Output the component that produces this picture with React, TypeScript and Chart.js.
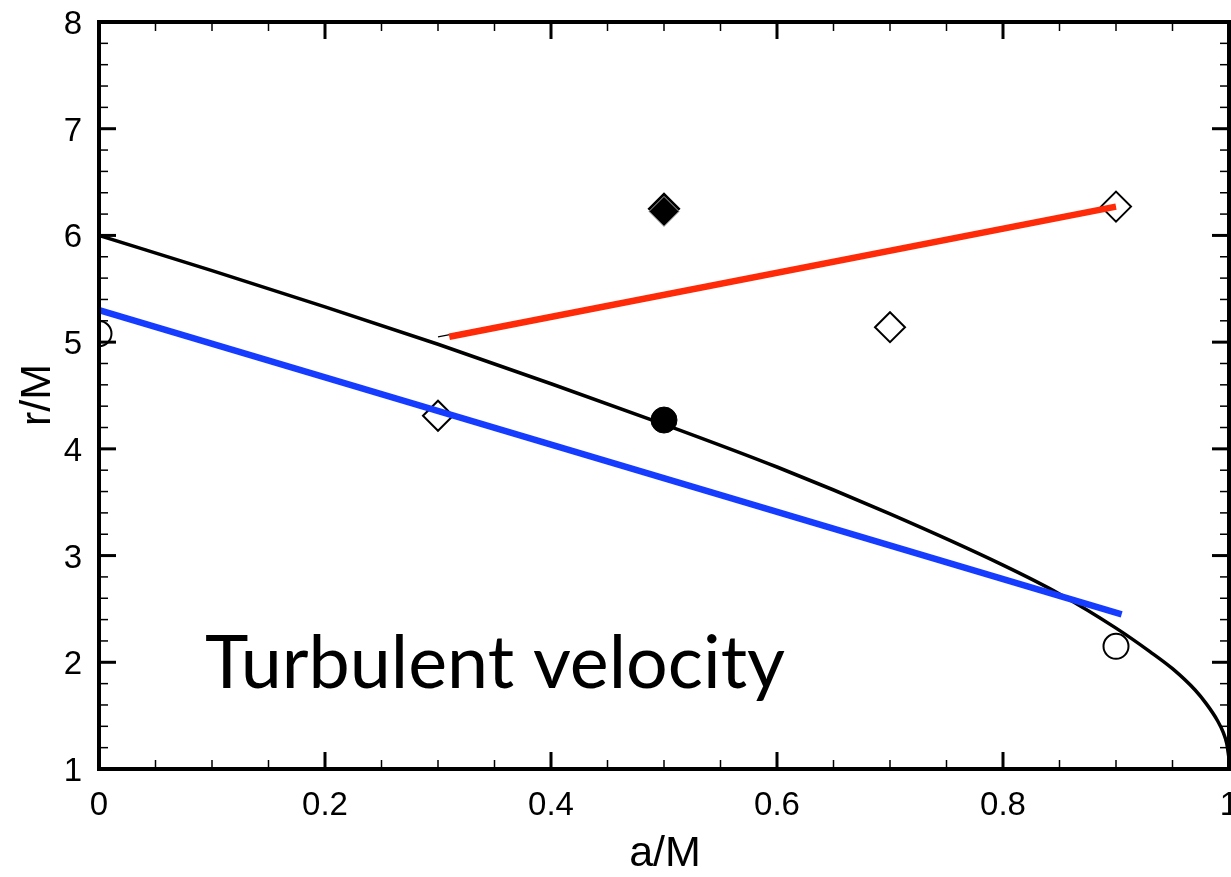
import React, { useEffect, useRef } from "react";
import { Chart, registerables } from "chart.js";

Chart.register(...registerables);

// ---- data ----
const curveA = [0, 0.1, 0.2, 0.3, 0.4, 0.5, 0.6, 0.7, 0.8, 0.85, 0.9, 0.93, 0.95, 0.97, 0.98, 0.99, 0.995, 0.998, 1.0];
const curveR = [6.0, 5.67, 5.33, 4.98, 4.61, 4.23, 3.83, 3.39, 2.91, 2.64, 2.32, 2.1, 1.94, 1.74, 1.61, 1.45, 1.34, 1.24, 1.1];

const redA = [0.31, 0.9];
const redR = [5.05, 6.27];
const thinA = [0.3, 0.9];
const thinR = [5.05, 6.27];
const blueA = [0, 0.905];
const blueR = [5.3, 2.45];

const openCircleA = [0, 0.9];
const openCircleR = [5.08, 2.15];
const filledCircleA = [0.5];
const filledCircleR = [4.27];
const openDiamondA = [0.3, 0.7, 0.9];
const openDiamondR = [4.31, 5.14, 6.27];
const filledDiamondA = [0.5, 0.5];
const filledDiamondR = [6.25, 6.225];

const xTicks = [0, 0.2, 0.4, 0.6, 0.8, 1];
const xTickLabels = ["0", "0.2", "0.4", "0.6", "0.8", "1"];
const yTicks = [1, 2, 3, 4, 5, 6, 7, 8];
const yTickLabels = ["1", "2", "3", "4", "5", "6", "7", "8"];
const xTitle = "a/M";
const yTitle = "r/M";
const annotation = "Turbulent velocity";

const pts = (xs: number[], ys: number[]) => xs.map((x, i) => ({ x, y: ys[i] }));

const LABEL_FONT = "33px 'Liberation Sans', Arial, sans-serif";

const framePlugin = {
  id: "frame",
  afterDraw(chart: any) {
    const { ctx, chartArea: ca, scales } = chart;
    const xs = scales.x;
    const ys = scales.y;
    ctx.save();
    ctx.strokeStyle = "#000";
    const tick = (x1: number, y1: number, x2: number, y2: number, w: number) => {
      ctx.lineWidth = w;
      ctx.beginPath();
      ctx.moveTo(x1, y1);
      ctx.lineTo(x2, y2);
      ctx.stroke();
    };
    for (let i = 0; i <= 20; i++) {
      const v = i * 0.05;
      const px = xs.getPixelForValue(v);
      const major = i % 4 === 0;
      const len = major ? 17 : 9;
      const w = major ? 3 : 1.5;
      tick(px, ca.bottom, px, ca.bottom - len, w);
      tick(px, ca.top, px, ca.top + len, w);
    }
    for (let i = 0; i <= 35; i++) {
      const v = 1 + i * 0.2;
      const py = ys.getPixelForValue(v);
      const major = i % 5 === 0;
      const len = major ? 17 : 9;
      const w = major ? 3 : 1.5;
      tick(ca.left, py, ca.left + len, py, w);
      tick(ca.right, py, ca.right - len, py, w);
    }
    ctx.lineWidth = 4;
    ctx.strokeRect(ca.left, ca.top, ca.right - ca.left, ca.bottom - ca.top);

    // tick labels
    ctx.fillStyle = "#000";
    ctx.font = LABEL_FONT;
    ctx.textBaseline = "alphabetic";
    ctx.textAlign = "center";
    xTicks.forEach((v, i) => {
      ctx.fillText(xTickLabels[i], xs.getPixelForValue(v), 815);
    });
    ctx.textAlign = "right";
    yTicks.forEach((v, i) => {
      ctx.fillText(yTickLabels[i], 82, ys.getPixelForValue(v) + 12);
    });

    // titles
    ctx.font = "43px 'Liberation Sans', Arial, sans-serif";
    ctx.textAlign = "center";
    ctx.textBaseline = "middle";
    ctx.fillText(xTitle, 665, 854);
    ctx.save();
    ctx.translate(38, 395);
    ctx.rotate(-Math.PI / 2);
    ctx.fillText(yTitle, 0, 0);
    ctx.restore();

    // annotation
    ctx.font = "70px Lato, 'Open Sans', sans-serif";
    const w = ctx.measureText(annotation).width;
    const size = 70 * (580 / w);
    ctx.font = `${size}px Lato, 'Open Sans', sans-serif`;
    ctx.textAlign = "left";
    ctx.textBaseline = "alphabetic";
    ctx.fillText(annotation, 205, 688);
    ctx.restore();
  },
};

export default function App() {
  const ref = useRef<HTMLCanvasElement | null>(null);
  useEffect(() => {
    document.body.style.margin = "0";
    const canvas = ref.current;
    if (!canvas) return;
    const lineBase = { showLine: true, pointRadius: 0, fill: false };
    const chart = new Chart(canvas, {
      type: "scatter",
      data: {
        datasets: [
          { ...lineBase, data: pts(redA, redR), borderColor: "#ff2a08", borderWidth: 6.5, order: 0, borderCapStyle: "butt" },
          { ...lineBase, data: pts(blueA, blueR), borderColor: "#163cff", borderWidth: 6.5, order: 0 },
          { ...lineBase, data: pts(thinA, thinR), borderColor: "#000", borderWidth: 1.2, order: 1 },
          {
            data: pts(openCircleA, openCircleR), pointStyle: "circle", pointRadius: 12.5,
            backgroundColor: "rgba(0,0,0,0)", borderColor: "#000", borderWidth: 2, order: 2, clip: 0,
          },
          {
            data: pts(filledCircleA, filledCircleR), pointStyle: "circle", pointRadius: 13,
            backgroundColor: "#000", borderColor: "#000", borderWidth: 1, order: 1,
          },
          {
            data: pts(openDiamondA, openDiamondR), pointStyle: "rectRot", pointRadius: 15,
            backgroundColor: "rgba(0,0,0,0)", borderColor: "#000", borderWidth: 2, order: 2,
          },
          {
            data: [pts(filledDiamondA, filledDiamondR)[1]], pointStyle: "rectRot", pointRadius: 15,
            backgroundColor: "#000", borderColor: "#aaa", borderWidth: 1, order: 2,
          },
          {
            data: [pts(filledDiamondA, filledDiamondR)[0]], pointStyle: "rectRot", pointRadius: 15.5,
            backgroundColor: "#000", borderColor: "#000", borderWidth: 1.5, order: 3,
          },
          {
            ...lineBase, data: pts(curveA, curveR), borderColor: "#000", borderWidth: 3.5,
            cubicInterpolationMode: "monotone", order: 4,
          },
        ],
      },
      options: {
        responsive: false,
        animation: false,
        layout: { autoPadding: false, padding: { top: 22, right: 2, left: 0, bottom: 0 } },
        plugins: { legend: { display: false }, tooltip: { enabled: false } },
        scales: {
          x: {
            type: "linear",
            min: 0,
            max: 1,
            afterFit: (s: any) => { s.height = 108; },
            grid: { display: false, drawTicks: false },
            border: { display: false },
            ticks: { display: false },
          },
          y: {
            type: "linear",
            min: 1,
            max: 8,
            afterFit: (s: any) => { s.width = 99; },
            grid: { display: false, drawTicks: false },
            border: { display: false },
            ticks: { display: false },
          },
        },
      },
      plugins: [framePlugin],
    } as any);
    return () => chart.destroy();
  }, []);
  return <canvas ref={ref} width={1231} height={877} style={{ display: "block" }} />;
}
